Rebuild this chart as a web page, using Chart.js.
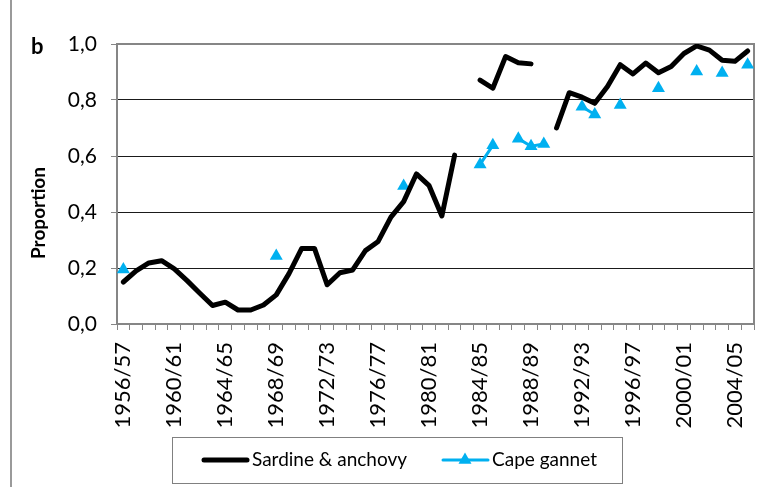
<!DOCTYPE html>
<html>
<head>
<meta charset="utf-8">
<script src="https://cdn.jsdelivr.net/npm/chart.js@4/dist/chart.umd.min.js"></script>
<style>
  html, body { margin: 0; padding: 0; background: #fff; }
  #wrap { width: 768px; height: 487px; position: relative; }
</style>
</head>
<body>
<div id="wrap"><canvas id="chart" width="768" height="487"></canvas></div>
<script>
// Fishing seasons on the x axis
const seasons = [
    '1956/57', '1957/58', '1958/59', '1959/60', '1960/61', '1961/62', '1962/63', '1963/64', '1964/65', '1965/66',
    '1966/67', '1967/68', '1968/69', '1969/70', '1970/71', '1971/72', '1972/73', '1973/74', '1974/75', '1975/76',
    '1976/77', '1977/78', '1978/79', '1979/80', '1980/81', '1981/82', '1982/83', '1983/84', '1984/85', '1985/86',
    '1986/87', '1987/88', '1988/89', '1989/90', '1990/91', '1991/92', '1992/93', '1993/94', '1994/95', '1995/96',
    '1996/97', '1997/98', '1998/99', '1999/00', '2000/01', '2001/02', '2002/03', '2003/04', '2004/05', '2005/06'
];

// Proportion of sardine & anchovy (null = no data)
const sardineAnchovy = [
    0.150, 0.190, 0.218, 0.226, 0.197, 0.155, 0.110, 0.066, 0.078, 0.050,
    0.050, 0.068, 0.104, 0.180, 0.270, 0.270, 0.140, 0.183, 0.193, 0.262,
    0.295, 0.382, 0.437, 0.536, 0.494, 0.386, 0.603, null, 0.871, 0.842,
    0.955, 0.933, 0.929, null, 0.700, 0.826, 0.810, 0.788, 0.848, 0.926,
    0.893, 0.932, 0.897, 0.920, 0.966, 0.993, 0.978, 0.942, 0.938, 0.975
];

// Proportion in Cape gannet diet
const capeGannet = [
    0.195, null, null, null, null, null, null, null, null, null,
    null, null, 0.243, null, null, null, null, null, null, null,
    null, null, 0.493, null, null, null, null, null, 0.570, 0.638,
    null, 0.662, 0.635, 0.643, null, null, 0.776, 0.748, null, 0.782,
    null, null, 0.842, null, null, 0.902, null, 0.896, null, 0.926
];

const yTicks = [0, 0.2, 0.4, 0.6, 0.8, 1.0];

const FONT = 'Lato, "Open Sans", sans-serif';
const AXIS_GREY = '#868686';
const GANNET_BLUE = '#00B0F0';

// Plot frame, panel letter, axis title, outer frame and the boxed legend
const decorations = {
    id: 'decorations',
    beforeDatasetsDraw(chart) {
        const { ctx, chartArea: a } = chart;
        ctx.save();
        ctx.strokeStyle = AXIS_GREY;
        ctx.lineWidth = 2;
        ctx.beginPath();
        ctx.moveTo(a.left, a.top);
        ctx.lineTo(a.right, a.top);
        ctx.lineTo(a.right, a.bottom);
        ctx.stroke();
        ctx.restore();
    },
    afterDraw(chart) {
        const { ctx } = chart;
        const ds = chart.data.datasets;
        ctx.save();

        // outer chart frame (left edge)
        ctx.strokeStyle = '#9a9a9a';
        ctx.lineWidth = 2;
        ctx.beginPath();
        ctx.moveTo(11, 0);
        ctx.lineTo(11, 487);
        ctx.stroke();

        // panel letter
        ctx.fillStyle = '#000';
        ctx.font = 'bold 22px ' + FONT;
        ctx.textBaseline = 'middle';
        ctx.textAlign = 'left';
        ctx.fillText('b', 31, 47);

        // y axis title, placed like the original (a bit below centre)
        ctx.save();
        ctx.translate(39, 213);
        ctx.rotate(-Math.PI / 2);
        ctx.textAlign = 'center';
        ctx.font = 'bold 19px ' + FONT;
        ctx.fillText('Proportion', 0, 0);
        ctx.restore();

        // legend box
        const y = 460;
        ctx.strokeStyle = '#808080';
        ctx.lineWidth = 1;
        ctx.strokeRect(172.5, 437.5, 450, 46);

        ctx.font = '19px ' + FONT;
        ctx.lineCap = 'round';

        ctx.strokeStyle = ds[0].borderColor;
        ctx.lineWidth = 5;
        ctx.beginPath();
        ctx.moveTo(204, y);
        ctx.lineTo(247, y);
        ctx.stroke();
        ctx.fillText(ds[0].label, 252, y);

        ctx.strokeStyle = ds[1].borderColor;
        ctx.lineWidth = 3;
        ctx.beginPath();
        ctx.moveTo(443, y);
        ctx.lineTo(488, y);
        ctx.stroke();
        ctx.fillStyle = ds[1].pointBackgroundColor;
        Chart.helpers.drawPoint(ctx, { pointStyle: 'triangle', radius: 7.5, borderWidth: 0 }, 465, y);
        ctx.fillStyle = '#000';
        ctx.fillText(ds[1].label, 492, y);

        ctx.restore();
    }
};

new Chart(document.getElementById('chart'), {
    type: 'line',
    data: {
        labels: seasons,
        datasets: [
            {
                label: 'Sardine & anchovy',
                data: sardineAnchovy,
                borderColor: '#000',
                backgroundColor: '#000',
                borderWidth: 5,
                borderCapStyle: 'round',
                borderJoinStyle: 'round',
                pointRadius: 0,
                spanGaps: false,
                tension: 0
            },
            {
                label: 'Cape gannet',
                data: capeGannet,
                borderColor: GANNET_BLUE,
                backgroundColor: GANNET_BLUE,
                pointBackgroundColor: GANNET_BLUE,
                pointBorderWidth: 0,
                borderWidth: 3,
                pointStyle: 'triangle',
                pointRadius: 7.5,
                spanGaps: false,
                tension: 0
            }
        ]
    },
    options: {
        responsive: false,
        animation: false,
        layout: { padding: { left: 0, top: 44, right: 14, bottom: 0 } },
        plugins: {
            legend: { display: false },
            tooltip: { enabled: false }
        },
        scales: {
            x: {
                offset: true,
                grid: {
                    offset: true,
                    drawOnChartArea: false,
                    drawTicks: true,
                    tickLength: 6,
                    color: AXIS_GREY,
                    lineWidth: 1
                },
                border: { display: true, color: AXIS_GREY, width: 2 },
                ticks: {
                    autoSkip: false,
                    minRotation: 90,
                    maxRotation: 90,
                    padding: 12,
                    color: '#000',
                    font: { family: FONT, size: 22 },
                    callback: (value, index) => index % 4 === 0 ? seasons[index] : ''
                },
                afterFit: (scale) => {
                    scale.height = 163;
                    scale.paddingRight = 0;
                    scale.paddingLeft = 0;
                }
            },
            y: {
                min: 0,
                max: 1,
                afterBuildTicks: (scale) => { scale.ticks = yTicks.map(v => ({ value: v })); },
                grid: {
                    color: (ctx) => (ctx.tick && (ctx.tick.value === 0 || ctx.tick.value === 1)) ? 'rgba(0,0,0,0)' : '#1a1a1a',
                    tickColor: AXIS_GREY,
                    lineWidth: 1,
                    tickLength: 6
                },
                border: { display: true, color: AXIS_GREY, width: 2 },
                ticks: {
                    padding: 14,
                    color: '#000',
                    font: { family: FONT, size: 21 },
                    callback: (v) => v.toFixed(1).replace('.', ',')
                },
                afterFit: (scale) => {
                    scale.width = 117;
                    scale.paddingTop = 0;
                    scale.paddingBottom = 0;
                }
            }
        }
    },
    plugins: [decorations]
});
</script>
</body>
</html>
